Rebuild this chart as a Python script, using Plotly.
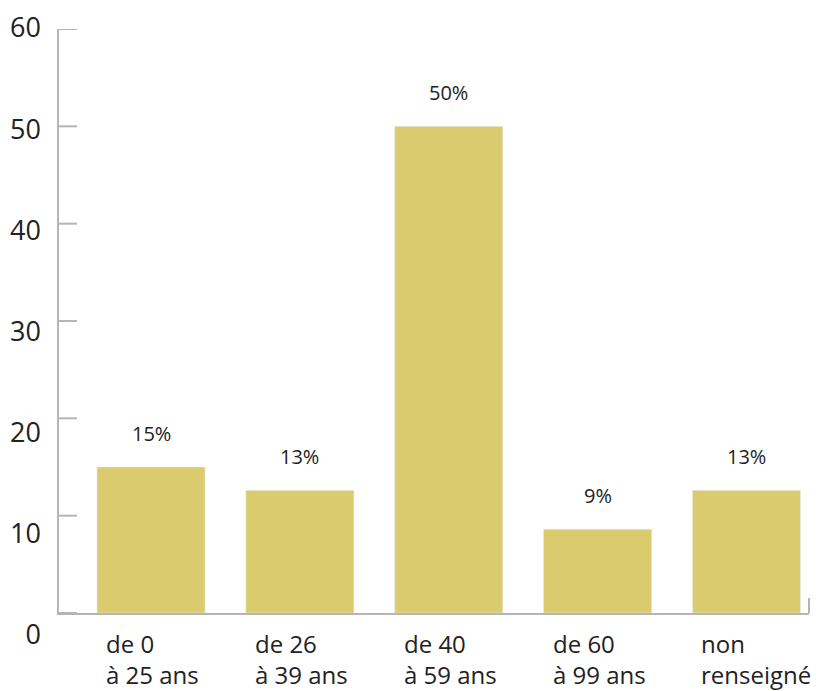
import plotly.graph_objects as go

categories = ["de 0<br>à 25 ans", "de 26<br>à 39 ans", "de 40<br>à 59 ans", "de 60<br>à 99 ans", "non<br>renseigné"]
values = [15, 12.6, 50, 8.6, 12.6]
value_labels = ["15%", "13%", "50%", "9%", "13%"]
y_ticks = [0, 10, 20, 30, 40, 50, 60]

# page has an 8px body margin, so the figure is drawn at (8, 8)
OFF = 8
W, H = 825 - OFF, 691 - OFF
FONT = "'Open Sans', Lato, sans-serif"
AXIS_COLOR = "#b5b5b8"
TEXT_COLOR = "#222222"
BAR_COLOR = "#dacb6f"
CLEAR = "rgba(0,0,0,0)"


def px_x(sx):
    return (sx - OFF) / W


def px_y(sy):
    return (H - (sy - OFF)) / H


fig = go.Figure()
fig.add_trace(go.Bar(
    x=categories, y=values, marker_color=BAR_COLOR, width=0.726,
    hoverinfo="skip", showlegend=False,
))
# invisible trace carrying the tick-label axis (separate subplot)
fig.add_trace(go.Scatter(
    x=[0], y=[None], xaxis="x2", yaxis="y2", mode="markers",
    showlegend=False, hoverinfo="skip",
))

annotations = []
for c, v, t in zip(categories, values, value_labels):
    annotations.append(dict(
        x=c, y=v, xref="x", yref="y", text=t, showarrow=False,
        yanchor="bottom", yshift=18, font=dict(family=FONT, size=20, color=TEXT_COLOR),
    ))
    annotations.append(dict(
        x=c, y=px_y(626), xref="x", yref="paper", text=c, showarrow=False,
        xanchor="left", yanchor="top", align="left", xshift=-46, borderpad=0,
        font=dict(family=FONT, size=24, color=TEXT_COLOR),
    ))

x0, x1 = px_x(59), px_x(809)
y0, y1 = px_y(613), px_y(29)

# inward tick marks on the value axis, placed at the tick values on the y scale
shapes = [dict(
    type="line", xref="paper", yref="y", x0=x0, x1=px_x(77), y0=v, y1=v,
    line=dict(color=AXIS_COLOR, width=2),
) for v in y_ticks]
# small upward tick closing the category axis
shapes.append(dict(
    type="line", xref="paper", yref="paper", x0=x1, x1=x1,
    y0=px_y(613), y1=px_y(598), line=dict(color=AXIS_COLOR, width=2),
))

fig.update_layout(
    width=W, height=H,
    margin=dict(l=0, r=0, t=0, b=0, autoexpand=False),
    paper_bgcolor="white", plot_bgcolor=CLEAR,
    xaxis=dict(
        domain=[x0, x1], range=[-0.618, 4.42], showline=True, linecolor=AXIS_COLOR,
        linewidth=2, ticks="", showticklabels=False, showgrid=False, zeroline=False,
        fixedrange=True,
    ),
    yaxis=dict(
        domain=[y0, y1], range=[0, 60], tickmode="array", tickvals=y_ticks,
        showline=True, linecolor=AXIS_COLOR, linewidth=2, ticks="",
        showticklabels=False, showgrid=False, zeroline=False, fixedrange=True,
    ),
    xaxis2=dict(
        domain=[x0, x1], anchor="y2", visible=False, fixedrange=True,
    ),
    yaxis2=dict(
        domain=[px_y(635), px_y(28)], range=[0, 60], tickmode="array", tickvals=y_ticks,
        anchor="x2", side="left", showline=False, ticks="",
        ticklabelstandoff=17, showgrid=False, zeroline=False, fixedrange=True,
        tickfont=dict(family=FONT, size=27, color=TEXT_COLOR),
    ),
    annotations=annotations,
    shapes=shapes,
)

fig.write_html("out.html")
